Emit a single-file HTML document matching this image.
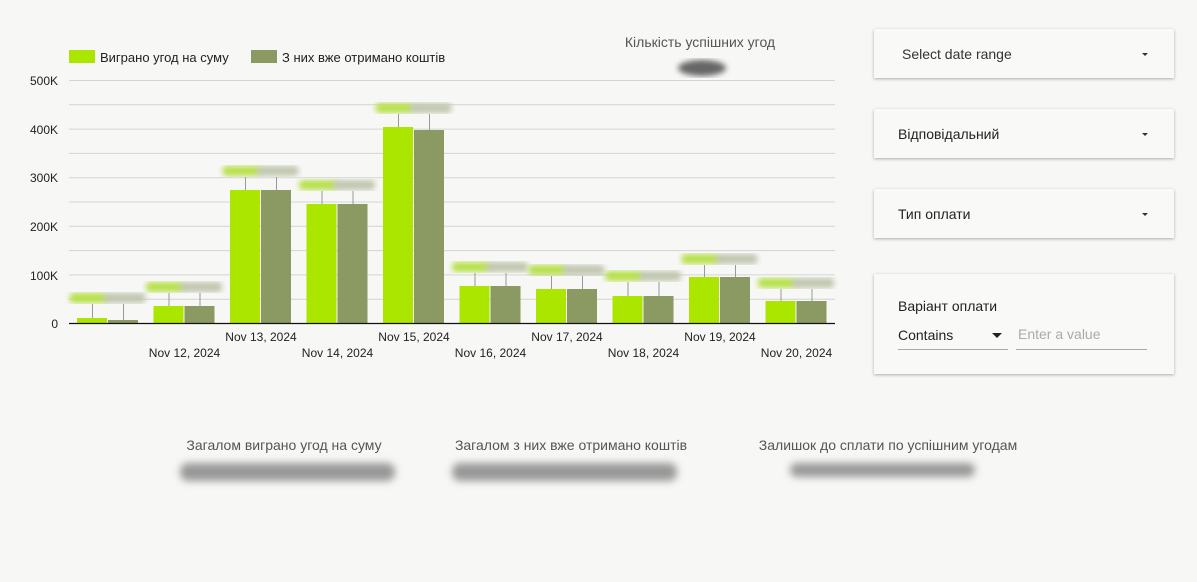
<!DOCTYPE html>
<html><head><meta charset="utf-8"><style>
body{margin:0;width:1197px;height:582px;background:#f7f7f5;font-family:"Liberation Sans",Roboto,sans-serif;overflow:hidden;position:relative}
.card{position:absolute;left:874px;width:300px;background:#f9f9f8;box-shadow:0 1px 3px rgba(0,0,0,.3)}
.card .t{position:absolute;left:24px;top:17px;font-size:14px;color:#222}
.card .a{position:absolute;right:26px;top:24px;width:0;height:0;border-left:3.5px solid transparent;border-right:3.5px solid transparent;border-top:3.5px solid #333}
.bt{position:absolute;font-size:14px;color:#555;text-align:center}
.bl{position:absolute;height:18px;background:#888;filter:blur(4px);border-radius:8px;opacity:.85}
</style></head><body>
<svg width="860" height="380" style="position:absolute;left:0;top:0" font-family="Liberation Sans, sans-serif">
<defs><filter id="b"><feGaussianBlur stdDeviation="3"/></filter></defs>
<rect x="69" y="50" width="26" height="13" fill="#abe600"/>
<text x="100" y="62" font-size="13" fill="#222">Виграно угод на суму</text>
<rect x="251" y="50" width="26" height="13" fill="#8a9a62"/>
<text x="282" y="62" font-size="13" fill="#222">З них вже отримано коштів</text>
<text x="700" y="47" font-size="14" fill="#555" text-anchor="middle">Кількість успішних угод</text>
<ellipse cx="702" cy="68" rx="24" ry="8" fill="#666" filter="url(#b)"/>
<g stroke="#d4d4d2" stroke-width="1">
<line x1="69" x2="835" y1="80.5" y2="80.5"/><line x1="69" x2="835" y1="104.8" y2="104.8"/>
<line x1="69" x2="835" y1="129.1" y2="129.1"/><line x1="69" x2="835" y1="153.4" y2="153.4"/>
<line x1="69" x2="835" y1="177.7" y2="177.7"/><line x1="69" x2="835" y1="202" y2="202"/>
<line x1="69" x2="835" y1="226.3" y2="226.3"/><line x1="69" x2="835" y1="250.6" y2="250.6"/>
<line x1="69" x2="835" y1="274.9" y2="274.9"/><line x1="69" x2="835" y1="299.2" y2="299.2"/>
</g>
<g font-size="12" fill="#222" text-anchor="end">
<text x="58" y="85">500K</text><text x="58" y="134">400K</text><text x="58" y="182">300K</text>
<text x="58" y="231">200K</text><text x="58" y="280">100K</text><text x="58" y="328">0</text>
</g>
<g id="bars"></g>
<line x1="69" x2="835" y1="323.5" y2="323.5" stroke="#111" stroke-width="1.3"/>
<g font-size="12" fill="#222" text-anchor="middle">
<text x="184.5" y="357">Nov 12, 2024</text><text x="261" y="341">Nov 13, 2024</text>
<text x="337.5" y="357">Nov 14, 2024</text><text x="414" y="341">Nov 15, 2024</text>
<text x="490.5" y="357">Nov 16, 2024</text><text x="567" y="341">Nov 17, 2024</text>
<text x="643.5" y="357">Nov 18, 2024</text><text x="720" y="341">Nov 19, 2024</text>
<text x="796.5" y="357">Nov 20, 2024</text>
</g>
</svg>
<script>
var tops=[[318,320],[306,306],[190,190],[204,204],[127,130],[286,286],[289,289],[296,296],[277,277],[301,301]];
var lb=[298,287,171,185,108,267,270,276,259,283];
var s="";
for(var i=0;i<10;i++){var c=107.5+76.5*i;
s+='<line x1="'+(c-15)+'" x2="'+(c-15)+'" y1="'+(lb[i]+6)+'" y2="'+tops[i][0]+'" stroke="#999"/>';
s+='<line x1="'+(c+16)+'" x2="'+(c+16)+'" y1="'+(lb[i]+6)+'" y2="'+tops[i][1]+'" stroke="#999"/>';
s+='<rect x="'+(c-38)+'" y="'+(lb[i]-5)+'" width="38" height="10" rx="4" fill="#b6e04a" filter="url(#b)"/>';
s+='<rect x="'+(c-4)+'" y="'+(lb[i]-5)+'" width="42" height="10" rx="4" fill="#c0c6ae" filter="url(#b)"/>';
s+='<rect x="'+(c-30.5)+'" y="'+tops[i][0]+'" width="30" height="'+(323-tops[i][0])+'" fill="#abe600"/>';
s+='<rect x="'+(c+0.5)+'" y="'+tops[i][1]+'" width="30" height="'+(323-tops[i][1])+'" fill="#8a9a62"/>';}
document.getElementById("bars").innerHTML=s;
</script>
<div class="card" style="top:29px;height:49px"><div class="t" style="left:28px;color:#333">Select date range</div><div class="a"></div></div>
<div class="card" style="top:109px;height:49px"><div class="t">Відповідальний</div><div class="a"></div></div>
<div class="card" style="top:189px;height:49px"><div class="t">Тип оплати</div><div class="a"></div></div>
<div class="card" style="top:274px;height:100px">
<div class="t" style="top:24px">Варіант оплати</div>
<div style="position:absolute;left:24px;top:53px;font-size:14px;color:#222">Contains</div>
<div style="position:absolute;left:118px;top:59px;border-left:5px solid transparent;border-right:5px solid transparent;border-top:5px solid #222"></div>
<div style="position:absolute;left:24px;top:75px;width:110px;border-top:1px solid #aaa"></div>
<div style="position:absolute;left:144px;top:52px;font-size:14px;color:#aaa">Enter a value</div>
<div style="position:absolute;left:142px;top:75px;width:131px;border-top:1px solid #aaa"></div>
</div>
<div class="bt" style="left:184px;top:437px;width:200px">Загалом виграно угод на суму</div>
<div class="bt" style="left:441px;top:437px;width:260px">Загалом з них вже отримано коштів</div>
<div class="bt" style="left:748px;top:437px;width:280px">Залишок до сплати по успішним угодам</div>
<div class="bl" style="left:180px;top:463px;width:215px"></div>
<div class="bl" style="left:452px;top:463px;width:225px"></div>
<div class="bl" style="left:790px;top:463px;width:185px;height:14px"></div>
</body></html>
